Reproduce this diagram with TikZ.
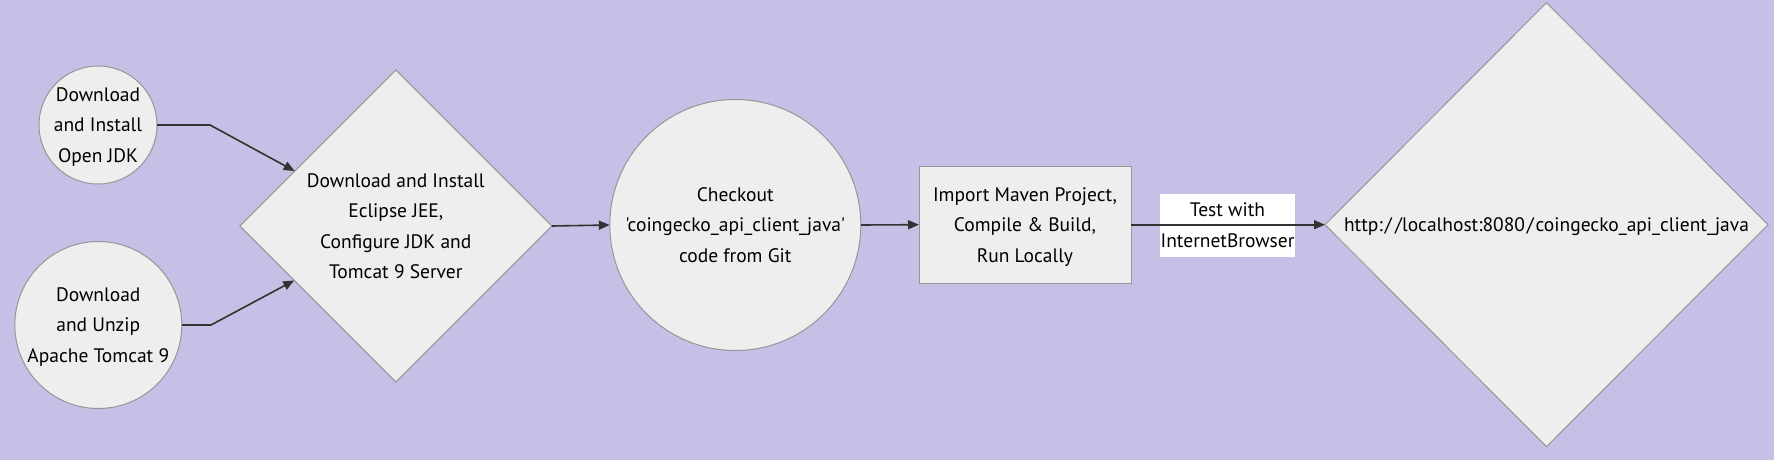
\documentclass[tikz,border=0pt]{standalone}
\usepackage{fontspec}
\setmainfont{PT Sans}[Ligatures=TeXOff]
\usetikzlibrary{arrows.meta,shapes.geometric}
\definecolor{bgc}{RGB}{199,191,230}
\definecolor{nodefill}{RGB}{238,238,238}
\definecolor{nodeline}{RGB}{150,150,150}
\definecolor{edgec}{RGB}{51,51,51}
\newcommand{\urlslash}{\kern1.8pt/\kern1.8pt}
\tikzset{
  nodetext/.style={font=\fontsize{19.5}{30.5}\selectfont, align=center, text=black,
    text depth=-1.5pt},
  circnode/.style={nodetext, circle, draw=nodeline, fill=nodefill, line width=1pt, inner sep=-30pt, outer sep=0pt},
  diamnode/.style={nodetext, diamond, aspect=1, draw=nodeline, fill=nodefill, line width=1pt, inner sep=0pt, outer sep=0pt},
  boxnode/.style={nodetext, rectangle, draw=nodeline, fill=nodefill, line width=1pt, inner sep=0pt, outer sep=0pt},
  lblnode/.style={nodetext, rectangle, fill=white, inner sep=0pt, outer sep=0pt},
  flow/.style={draw=edgec, line width=1.6pt, -{Triangle[length=11pt,width=9pt]}}
}
\begin{document}
\begin{tikzpicture}[x=1pt,y=-1pt]
\fill[bgc] (0,0) rectangle (1774,460);
\useasboundingbox (0,0) rectangle (1774,460);

\node[circnode, minimum size=118pt] (jdk) at (98,125) {Download\\and Install\\Open JDK};
\node[circnode, minimum size=167pt] (tomcat) at (98.3,325) {Download\\and Unzip\\Apache Tomcat 9};
\node[diamnode, minimum width=312pt, minimum height=312pt] (eclipse) at (395.8,226) {Download and Install\\Eclipse JEE,\\Configure JDK and\\Tomcat 9 Server};
\node[circnode, minimum size=251pt] (git) at (735.3,225) {Checkout\\'coingecko\_api\_client\_java'\\code from Git};
\node[boxnode, minimum width=212pt, minimum height=117pt] (maven) at (1025,224.7) {Import Maven Project,\\Compile \& Build,\\Run Locally};
\node[diamnode, minimum width=443pt, minimum height=444pt] (url) at (1546.5,224.7) {http:\kern2pt/\kern3.5pt/localhost:8080\urlslash coingecko\_api\_client\_java};
\node[lblnode, minimum width=135pt, minimum height=62.7pt] (lbl) at (1227.5,225.3) {Test with\\InternetBrowser};

\coordinate (k1) at (210,125);
\coordinate (k2) at (211,325);
\draw[flow] (jdk.east) -- (k1) -- (eclipse);
\draw[flow] (tomcat.east) -- (k2) -- (eclipse);
\draw[flow] (eclipse.east) -- (git.west);
\draw[flow] (git.east) -- (maven.west);
\draw[flow] (maven.east) -- (url.west);
\end{tikzpicture}
\end{document}
